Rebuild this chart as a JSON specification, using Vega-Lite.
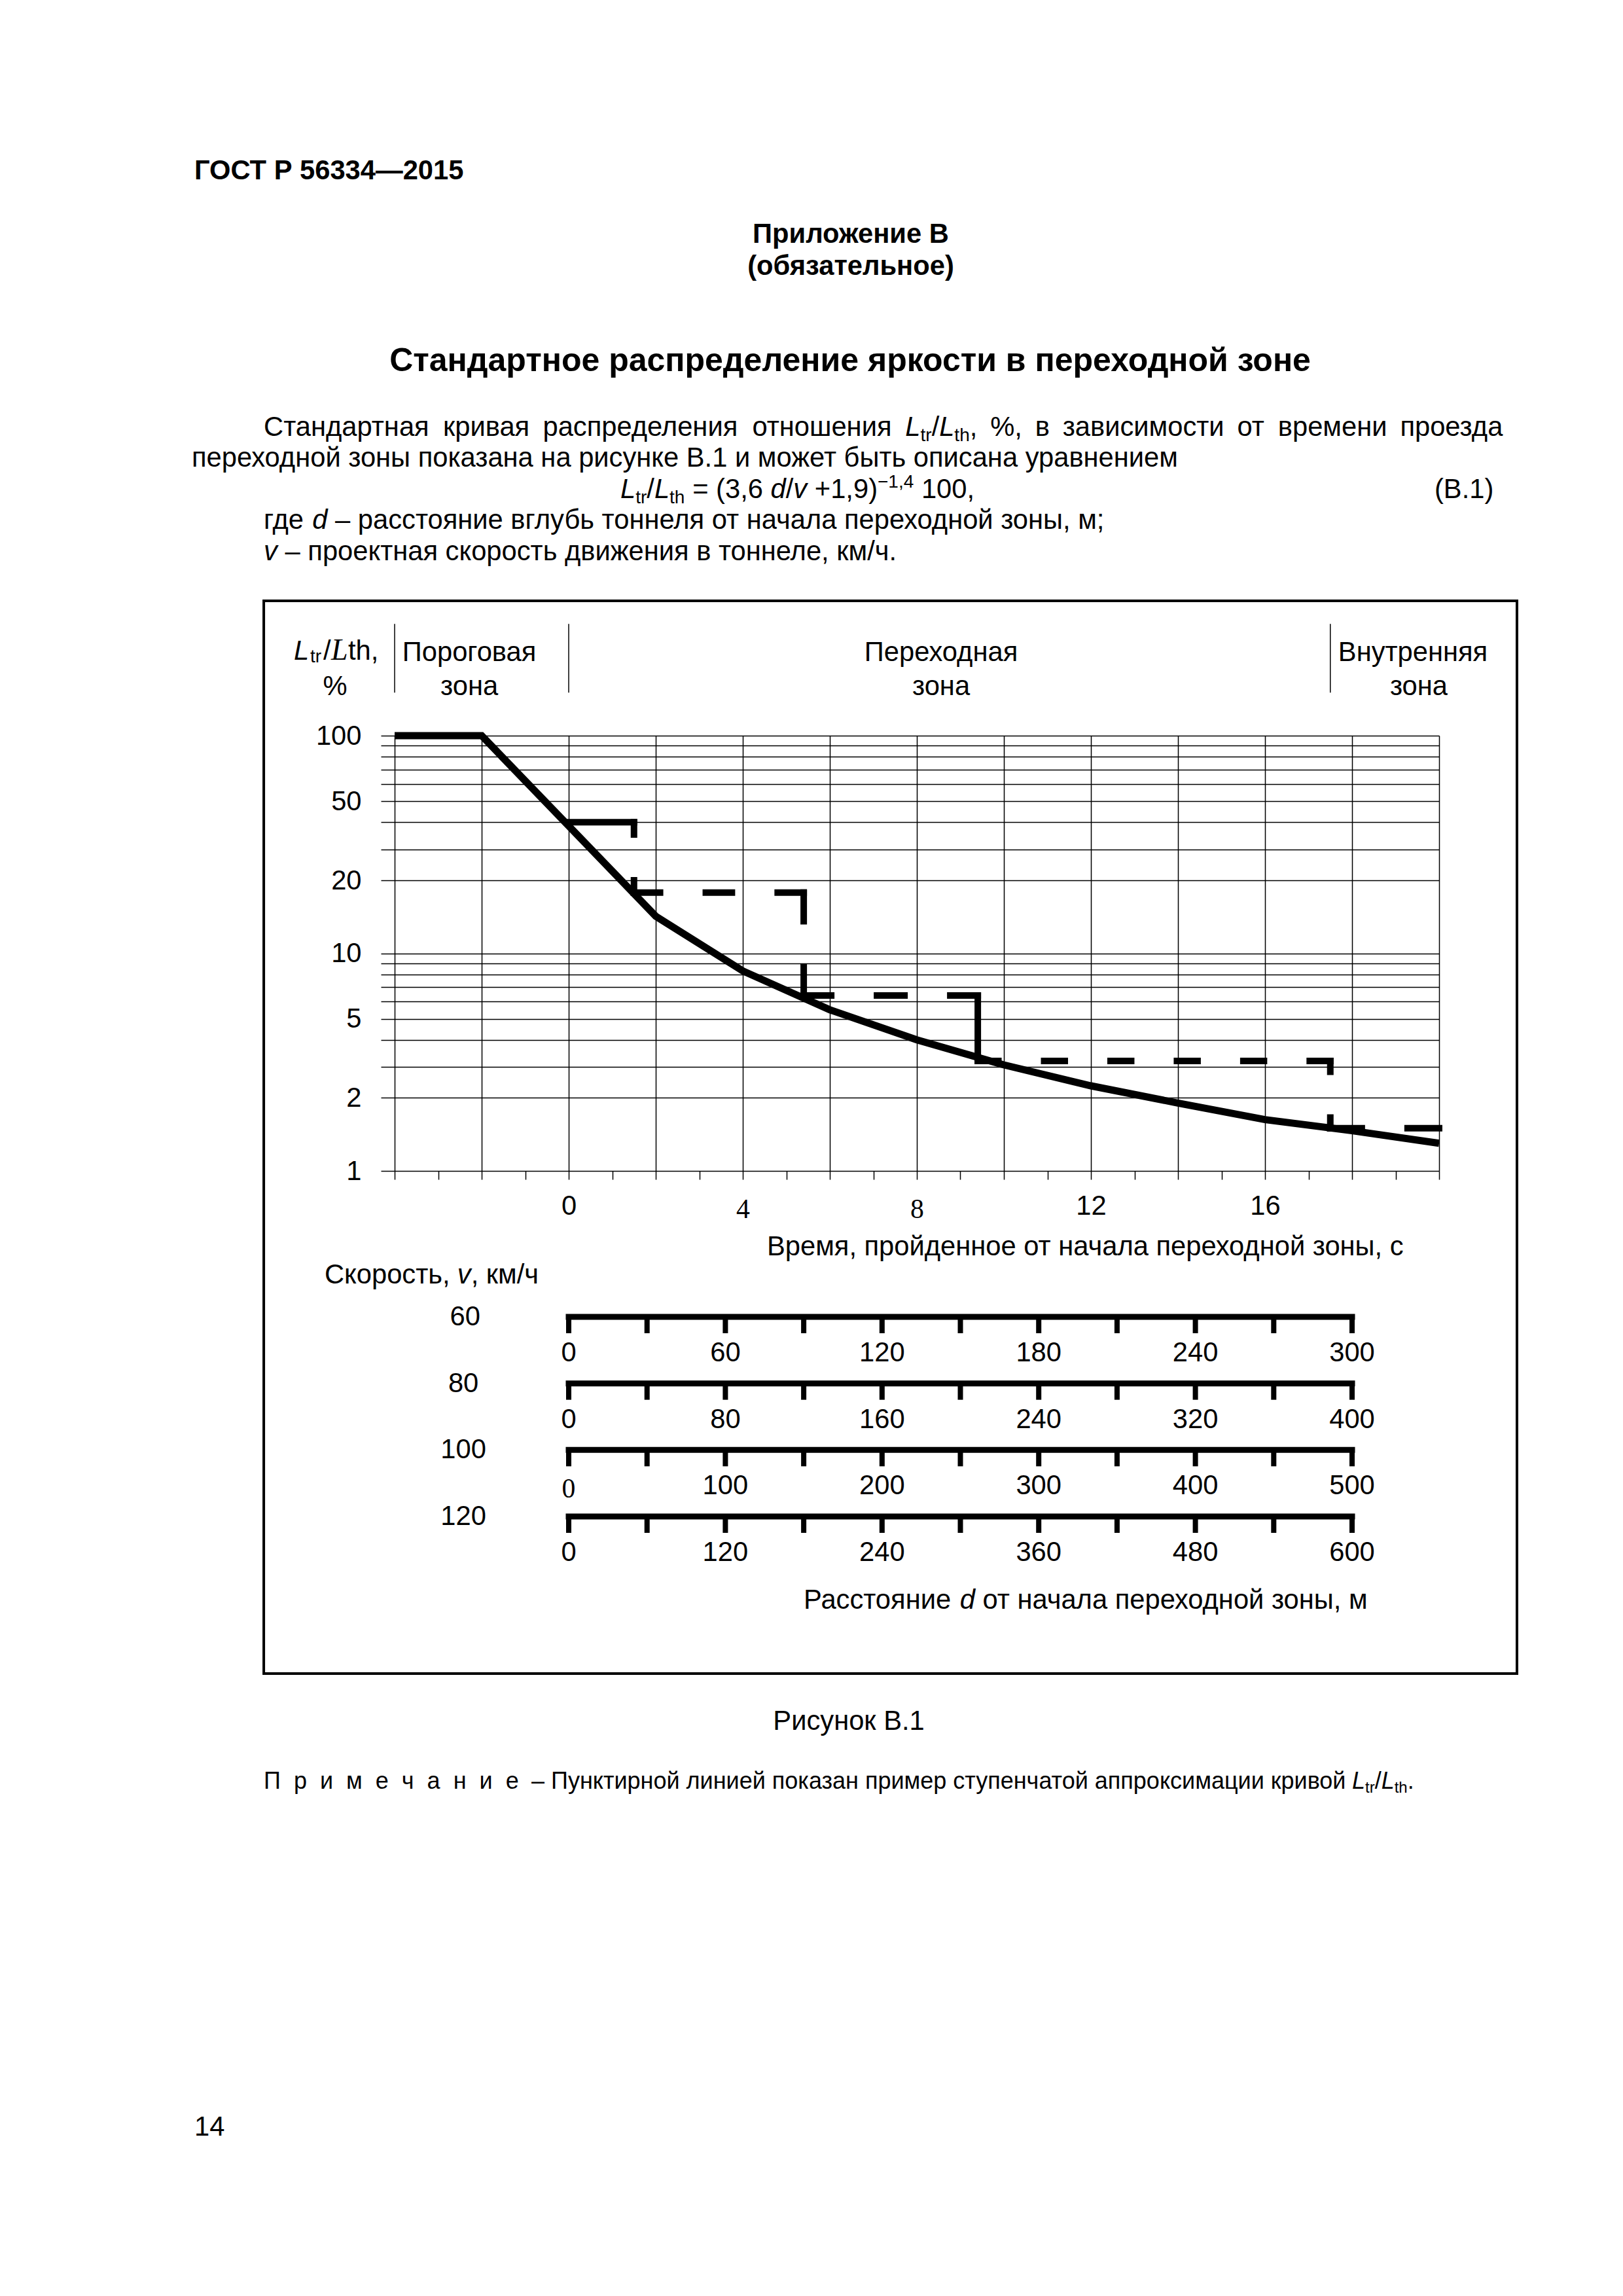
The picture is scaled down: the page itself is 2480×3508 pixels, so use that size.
{
  "$schema": "https://vega.github.io/schema/vega-lite/v6.json",
  "width": 1596,
  "height": 665,
  "autosize": {"type": "none"},
  "padding": {"left": 603, "top": 1124, "right": 281, "bottom": 1719},
  "background": "#ffffff",
  "config": {"view": {"stroke": null}, "font": "Liberation Sans"},
  "datasets": {
    "curve": [
      {"t": -4, "L": 100}, {"t": -2, "L": 100}, {"t": 2, "L": 14.8}, {"t": 4, "L": 8.3},
      {"t": 6, "L": 5.5}, {"t": 8, "L": 4.0}, {"t": 10, "L": 3.07}, {"t": 12, "L": 2.46},
      {"t": 14, "L": 2.05}, {"t": 16, "L": 1.72}, {"t": 18, "L": 1.53}, {"t": 20, "L": 1.34}
    ],
    "steps": [
      {"seg": "H1", "t": 0, "L": 40}, {"seg": "H1", "t": 1.5, "L": 40},
      {"seg": "V1", "t": 1.5, "L": 40}, {"seg": "V1", "t": 1.5, "L": 19},
      {"seg": "H2", "t": 1.5, "L": 19}, {"seg": "H2", "t": 5.4, "L": 19},
      {"seg": "V2", "t": 5.4, "L": 19}, {"seg": "V2", "t": 5.4, "L": 6.4},
      {"seg": "H3", "t": 5.4, "L": 6.4}, {"seg": "H3", "t": 9.4, "L": 6.4},
      {"seg": "V3", "t": 9.4, "L": 6.4}, {"seg": "V3", "t": 9.4, "L": 3.2},
      {"seg": "H4", "t": 9.4, "L": 3.2}, {"seg": "H4", "t": 17.5, "L": 3.2},
      {"seg": "V4", "t": 17.5, "L": 3.2}, {"seg": "V4", "t": 17.5, "L": 1.57},
      {"seg": "H5", "t": 17.5, "L": 1.57}, {"seg": "H5", "t": 20, "L": 1.57}
    ],
    "zones": [{"t": -4}, {"t": 0}, {"t": 17.5}],
    "bars": [
      {"v": 60, "t": 0, "t2": 18}, {"v": 80, "t": 0, "t2": 18},
      {"v": 100, "t": 0, "t2": 18}, {"v": 120, "t": 0, "t2": 18}
    ],
    "barTicks": [
      {"v": 60, "t": 0}, {"v": 60, "t": 1.8}, {"v": 60, "t": 3.6}, {"v": 60, "t": 5.4}, {"v": 60, "t": 7.2}, {"v": 60, "t": 9}, {"v": 60, "t": 10.8}, {"v": 60, "t": 12.6}, {"v": 60, "t": 14.4}, {"v": 60, "t": 16.2}, {"v": 60, "t": 18},
      {"v": 80, "t": 0}, {"v": 80, "t": 1.8}, {"v": 80, "t": 3.6}, {"v": 80, "t": 5.4}, {"v": 80, "t": 7.2}, {"v": 80, "t": 9}, {"v": 80, "t": 10.8}, {"v": 80, "t": 12.6}, {"v": 80, "t": 14.4}, {"v": 80, "t": 16.2}, {"v": 80, "t": 18},
      {"v": 100, "t": 0}, {"v": 100, "t": 1.8}, {"v": 100, "t": 3.6}, {"v": 100, "t": 5.4}, {"v": 100, "t": 7.2}, {"v": 100, "t": 9}, {"v": 100, "t": 10.8}, {"v": 100, "t": 12.6}, {"v": 100, "t": 14.4}, {"v": 100, "t": 16.2}, {"v": 100, "t": 18},
      {"v": 120, "t": 0}, {"v": 120, "t": 1.8}, {"v": 120, "t": 3.6}, {"v": 120, "t": 5.4}, {"v": 120, "t": 7.2}, {"v": 120, "t": 9}, {"v": 120, "t": 10.8}, {"v": 120, "t": 12.6}, {"v": 120, "t": 14.4}, {"v": 120, "t": 16.2}, {"v": 120, "t": 18}
    ],
    "speeds": [
      {"v": 60, "t": -2.38, "label": "60"}, {"v": 80, "t": -2.42, "label": "80"},
      {"v": 100, "t": -2.42, "label": "100"}, {"v": 120, "t": -2.42, "label": "120"}
    ],
    "distLabels": [
      {"v": 60, "t": 0, "d": "0"}, {"v": 60, "t": 3.6, "d": "60"}, {"v": 60, "t": 7.2, "d": "120"}, {"v": 60, "t": 10.8, "d": "180"}, {"v": 60, "t": 14.4, "d": "240"}, {"v": 60, "t": 18, "d": "300"},
      {"v": 80, "t": 0, "d": "0"}, {"v": 80, "t": 3.6, "d": "80"}, {"v": 80, "t": 7.2, "d": "160"}, {"v": 80, "t": 10.8, "d": "240"}, {"v": 80, "t": 14.4, "d": "320"}, {"v": 80, "t": 18, "d": "400"},
      {"v": 100, "t": 3.6, "d": "100"}, {"v": 100, "t": 7.2, "d": "200"}, {"v": 100, "t": 10.8, "d": "300"}, {"v": 100, "t": 14.4, "d": "400"}, {"v": 100, "t": 18, "d": "500"},
      {"v": 120, "t": 0, "d": "0"}, {"v": 120, "t": 3.6, "d": "120"}, {"v": 120, "t": 7.2, "d": "240"}, {"v": 120, "t": 10.8, "d": "360"}, {"v": 120, "t": 14.4, "d": "480"}, {"v": 120, "t": 18, "d": "600"}
    ],
    "distLabelsSerif": [{"v": 100, "t": 0, "d": "0"}],
    "sansL": [
      {"x": 34.13, "y": 56.39, "s": "Стандартная"},
      {"x": 57.33, "y": 56.39, "s": "кривая"},
      {"x": 70.24, "y": 56.39, "s": "распределения"},
      {"x": 97.33, "y": 56.39, "s": "отношения"},
      {"x": 120.55, "y": 56.39, "s": "/"},
      {"x": 125.48, "y": 56.39, "s": ","},
      {"x": 128.13, "y": 56.39, "s": "%,"},
      {"x": 133.94, "y": 56.39, "s": "в"},
      {"x": 137.49, "y": 56.39, "s": "зависимости"},
      {"x": 160.09, "y": 56.39, "s": "от"},
      {"x": 165.36, "y": 56.39, "s": "времени"},
      {"x": 181.16, "y": 56.39, "s": "проезда"},
      {"x": 24.81, "y": 60.37, "s": "переходной зоны показана на рисунке В.1 и может быть описана уравнением"},
      {"x": 83.69, "y": 64.43, "s": "/"},
      {"x": 89.6, "y": 64.43, "s": "= (3,6"},
      {"x": 101.67, "y": 64.43, "s": "/"},
      {"x": 105.41, "y": 64.43, "s": "+1,9)"},
      {"x": 119.22, "y": 64.43, "s": "100,"},
      {"x": 185.61, "y": 64.43, "s": "(В.1)"},
      {"x": 34.13, "y": 68.41, "s": "где"},
      {"x": 43.36, "y": 68.41, "s": "– расстояние вглубь тоннеля от начала переходной зоны, м;"},
      {"x": 36.88, "y": 72.47, "s": "– проектная скорость движения в тоннеле, км/ч."},
      {"x": 41.83, "y": 85.34, "s": "/"},
      {"x": 45.05, "y": 85.34, "s": "th,"},
      {"x": 99.24, "y": 162.38, "s": "Время, пройденное от начала переходной зоны, с"},
      {"x": 42.0, "y": 166.03, "s": "Скорость,"},
      {"x": 60.94, "y": 166.03, "s": ", км/ч"},
      {"x": 103.98, "y": 208.1, "s": "Расстояние"},
      {"x": 127.14, "y": 208.1, "s": "от начала переходной зоны, м"},
      {"x": 25.15, "y": 276.26, "s": "14"}
    ],
    "sansC": [
      {"x": 43.35, "y": 89.91, "s": "%"},
      {"x": 60.72, "y": 85.51, "s": "Пороговая"},
      {"x": 60.72, "y": 89.91, "s": "зона"},
      {"x": 121.77, "y": 85.51, "s": "Переходная"},
      {"x": 121.77, "y": 89.91, "s": "зона"},
      {"x": 182.82, "y": 85.51, "s": "Внутренняя"},
      {"x": 183.58, "y": 89.91, "s": "зона"},
      {"x": 109.83, "y": 223.77, "s": "Рисунок В.1"}
    ],
    "italL": [
      {"x": 117.14, "y": 56.39, "s": "L"},
      {"x": 121.53, "y": 56.39, "s": "L"},
      {"x": 80.27, "y": 64.43, "s": "L"},
      {"x": 84.67, "y": 64.43, "s": "L"},
      {"x": 99.71, "y": 64.43, "s": "d"},
      {"x": 102.65, "y": 64.43, "s": "v"},
      {"x": 40.42, "y": 68.41, "s": "d"},
      {"x": 34.13, "y": 72.47, "s": "v"},
      {"x": 38.02, "y": 85.34, "s": "L"},
      {"x": 59.17, "y": 166.03, "s": "v"},
      {"x": 124.2, "y": 208.1, "s": "d"}
    ],
    "serifItal": [{"x": 42.85, "y": 85.34, "s": "L"}],
    "subL": [
      {"x": 119.1, "y": 57.06, "s": "tr"},
      {"x": 123.49, "y": 57.06, "s": "th"},
      {"x": 82.24, "y": 65.11, "s": "tr"},
      {"x": 86.63, "y": 65.11, "s": "th"},
      {"x": 113.55, "y": 63.07, "s": "−1,4"},
      {"x": 40.14, "y": 85.68, "s": "tr"}
    ],
    "boldL": [{"x": 25.15, "y": 23.2, "s": "ГОСТ Р 56334—2015"}],
    "boldC": [
      {"x": 110.08, "y": 31.41, "s": "Приложение В"},
      {"x": 110.08, "y": 35.56, "s": "(обязательное)"}
    ],
    "titleC": [{"x": 110.0, "y": 48.0, "s": "Стандартное распределение яркости в переходной зоне"}],
    "note": [
      {"x": 34.13, "y": 231.39, "s": "П\u00a0\u00a0р\u00a0\u00a0и\u00a0\u00a0м\u00a0\u00a0е\u00a0\u00a0ч\u00a0\u00a0а\u00a0\u00a0н\u00a0\u00a0и\u00a0\u00a0е"},
      {"x": 68.76, "y": 231.39, "s": "– Пунктирной линией показан пример ступенчатой аппроксимации кривой"},
      {"x": 177.88, "y": 231.39, "s": "/"},
      {"x": 182.12, "y": 231.39, "s": "."}
    ],
    "noteItal": [
      {"x": 174.94, "y": 231.39, "s": "L"},
      {"x": 178.73, "y": 231.39, "s": "L"}
    ],
    "noteSub": [
      {"x": 176.64, "y": 231.9, "s": "tr"},
      {"x": 180.42, "y": 231.9, "s": "th"}
    ],
    "box": [{"x": 34.13, "x2": 196.28, "y": 77.72, "y2": 216.49}]
  },
  "layer": [
    {
      "encoding": {
        "x": {
          "field": "t", "type": "quantitative",
          "scale": {"domain": [-4, 20], "nice": false, "zero": false},
          "axis": {
            "values": [-4, -3, -2, -1, 0, 1, 2, 3, 4, 5, 6, 7, 8, 9, 10, 11, 12, 13, 14, 15, 16, 17, 18, 19, 20],
            "grid": true, "gridColor": "#000", "gridWidth": 1.5,
            "gridOpacity": {"condition": {"test": "datum.value % 2 != 0", "value": 0}, "value": 1},
            "domain": false, "ticks": true, "tickSize": 13, "tickColor": "#000", "tickWidth": 1.5,
            "labelExpr": "indexof([0, 4, 8, 12, 16], datum.value) >= 0 ? '' + datum.value : ''",
            "labelFont": {"condition": {"test": "datum.value == 4 || datum.value == 8", "value": "Liberation Serif"}, "value": "Liberation Sans"},
            "labelPadding": {"condition": {"test": "datum.value == 4 || datum.value == 8", "value": 25}, "value": 20},
            "labelFontSize": 41.7, "labelColor": "#000", "labelOverlap": false, "labelFlush": false, "labelBound": false,
            "title": null
          }
        },
        "y": {
          "field": "L", "type": "quantitative",
          "scale": {"type": "log", "domain": [1, 100], "nice": false},
          "axis": {
            "values": [1, 2.17, 3, 4, 5, 6, 7, 8, 9, 10, 21.6, 30, 40, 50, 60, 70, 80, 90, 100],
            "grid": true, "gridColor": "#000", "gridWidth": 1.5,
            "domain": false, "ticks": true, "tickSize": 21, "tickColor": "#000", "tickWidth": 1.5,
            "labelExpr": "datum.value == 1 ? '1' : datum.value == 2.17 ? '2' : datum.value == 5 ? '5' : datum.value == 10 ? '10' : datum.value == 21.6 ? '20' : datum.value == 50 ? '50' : datum.value == 100 ? '100' : ''",
            "labelFont": "Liberation Sans", "labelFontSize": 41.7, "labelColor": "#000", "labelPadding": 30,
            "labelOverlap": false, "labelBound": false, "labelFlush": false,
            "title": null
          }
        }
      },
      "layer": [
        {
          "data": {"name": "curve"},
          "mark": {"type": "line", "stroke": "#000", "strokeWidth": 11, "strokeJoin": "miter", "strokeCap": "butt"}
        },
        {
          "data": {"name": "steps"},
          "mark": {"type": "line", "stroke": "#000", "strokeWidth": 10, "strokeCap": "square", "strokeJoin": "miter"},
          "encoding": {
            "detail": {"field": "seg", "type": "nominal"},
            "strokeDash": {
              "field": "seg", "type": "nominal",
              "scale": {
                "domain": ["H1", "V1", "H2", "V2", "H3", "V3", "H4", "V4", "H5"],
                "range": [[1, 0], [18.75, 70], [39.8, 70], [43.6, 70], [42, 70], [1, 0], [31.45, 70], [16.4, 70], [48.1, 70]]
              },
              "legend": null
            }
          }
        }
      ]
    },
    {
      "data": {"name": "zones"},
      "mark": {"type": "rule", "stroke": "#000", "strokeWidth": 1.5},
      "encoding": {
        "x": {"field": "t", "type": "quantitative", "scale": {"domain": [-4, 20], "nice": false, "zero": false}, "axis": null},
        "y": {"datum": 80.7, "type": "quantitative", "scale": {"domain": [0, 297], "range": [-1124, 2384], "nice": false, "zero": false}, "axis": null},
        "y2": {"datum": 89.6}
      }
    },
    {
      "encoding": {
        "x": {"field": "t", "type": "quantitative", "scale": {"domain": [-4, 20], "nice": false, "zero": false}, "axis": null},
        "y": {"field": "v", "type": "quantitative", "scale": {"domain": [60, 120], "range": [888, 1193], "nice": false, "zero": false}, "axis": null}
      },
      "layer": [
        {
          "data": {"name": "bars"},
          "mark": {"type": "rule", "stroke": "#000", "strokeWidth": 9, "strokeCap": "square"},
          "encoding": {"x2": {"field": "t2"}}
        },
        {
          "data": {"name": "barTicks"},
          "mark": {"type": "tick", "orient": "vertical", "thickness": 8, "size": 26, "yOffset": 12, "color": "#000", "opacity": 1}
        },
        {
          "data": {"name": "speeds"},
          "mark": {"type": "text", "align": "center", "baseline": "middle", "font": "Liberation Sans", "fontSize": 41.7, "fill": "#000"},
          "encoding": {"text": {"field": "label"}}
        },
        {
          "data": {"name": "distLabels"},
          "mark": {"type": "text", "align": "center", "baseline": "middle", "dy": 55, "font": "Liberation Sans", "fontSize": 41.7, "fill": "#000"},
          "encoding": {"text": {"field": "d"}}
        },
        {
          "data": {"name": "distLabelsSerif"},
          "mark": {"type": "text", "align": "center", "baseline": "middle", "dy": 60, "font": "Liberation Serif", "fontSize": 41.7, "fill": "#000"},
          "encoding": {"text": {"field": "d"}}
        }
      ]
    },
    {
      "encoding": {
        "x": {"field": "x", "type": "quantitative", "scale": {"domain": [0, 210], "range": [-603, 1877], "nice": false, "zero": false}, "axis": null},
        "y": {"field": "y", "type": "quantitative", "scale": {"domain": [0, 297], "range": [-1124, 2384], "nice": false, "zero": false}, "axis": null}
      },
      "layer": [
        {
          "data": {"name": "box"},
          "mark": {"type": "rect", "filled": false, "stroke": "#000", "strokeWidth": 4},
          "encoding": {"x2": {"field": "x2"}, "y2": {"field": "y2"}}
        },
        {
          "data": {"name": "sansL"},
          "mark": {"type": "text", "align": "left", "baseline": "alphabetic", "font": "Liberation Sans", "fontSize": 41.7, "fill": "#000"},
          "encoding": {"text": {"field": "s"}}
        },
        {
          "data": {"name": "sansC"},
          "mark": {"type": "text", "align": "center", "baseline": "alphabetic", "font": "Liberation Sans", "fontSize": 41.7, "fill": "#000"},
          "encoding": {"text": {"field": "s"}}
        },
        {
          "data": {"name": "italL"},
          "mark": {"type": "text", "align": "left", "baseline": "alphabetic", "font": "Liberation Sans", "fontStyle": "italic", "fontSize": 41.7, "fill": "#000"},
          "encoding": {"text": {"field": "s"}}
        },
        {
          "data": {"name": "serifItal"},
          "mark": {"type": "text", "align": "left", "baseline": "alphabetic", "font": "Liberation Serif", "fontStyle": "italic", "fontSize": 46, "fill": "#000"},
          "encoding": {"text": {"field": "s"}}
        },
        {
          "data": {"name": "subL"},
          "mark": {"type": "text", "align": "left", "baseline": "alphabetic", "font": "Liberation Sans", "fontSize": 28, "fill": "#000"},
          "encoding": {"text": {"field": "s"}}
        },
        {
          "data": {"name": "boldL"},
          "mark": {"type": "text", "align": "left", "baseline": "alphabetic", "font": "Liberation Sans", "fontWeight": "bold", "fontSize": 41.7, "fill": "#000"},
          "encoding": {"text": {"field": "s"}}
        },
        {
          "data": {"name": "boldC"},
          "mark": {"type": "text", "align": "center", "baseline": "alphabetic", "font": "Liberation Sans", "fontWeight": "bold", "fontSize": 41.7, "fill": "#000"},
          "encoding": {"text": {"field": "s"}}
        },
        {
          "data": {"name": "titleC"},
          "mark": {"type": "text", "align": "center", "baseline": "alphabetic", "font": "Liberation Sans", "fontWeight": "bold", "fontSize": 50, "fill": "#000"},
          "encoding": {"text": {"field": "s"}}
        },
        {
          "data": {"name": "note"},
          "mark": {"type": "text", "align": "left", "baseline": "alphabetic", "font": "Liberation Sans", "fontSize": 36, "fill": "#000"},
          "encoding": {"text": {"field": "s"}}
        },
        {
          "data": {"name": "noteItal"},
          "mark": {"type": "text", "align": "left", "baseline": "alphabetic", "font": "Liberation Sans", "fontStyle": "italic", "fontSize": 36, "fill": "#000"},
          "encoding": {"text": {"field": "s"}}
        },
        {
          "data": {"name": "noteSub"},
          "mark": {"type": "text", "align": "left", "baseline": "alphabetic", "font": "Liberation Sans", "fontSize": 24, "fill": "#000"},
          "encoding": {"text": {"field": "s"}}
        }
      ]
    }
  ],
  "resolve": {"scale": {"x": "independent", "y": "independent"}}
}
